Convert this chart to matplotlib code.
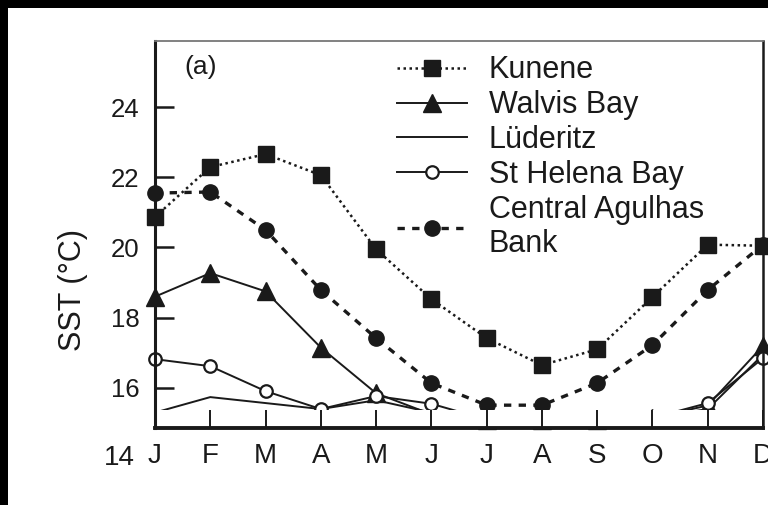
#!/usr/bin/env python3
# -*- coding: utf-8 -*-

from matplotlib import pyplot as plt
from matplotlib.patches import Rectangle
import numpy as np

## Data section - monthly mean SST (deg C)
months = ['J', 'F', 'M', 'A', 'M', 'J', 'J', 'A', 'S', 'O', 'N', 'D']
kunene     = [20.87, 22.29, 22.66, 22.06, 19.95, 18.53, 17.42, 16.65, 17.10, 18.59, 20.08, 20.05]
walvis     = [18.60, 19.27, 18.75, 17.15, 15.85, 15.25, 15.10, 15.10, 15.10, 15.15, 15.50, 17.20]
luderitz   = [15.30, 15.74, 15.57, 15.40, 15.65, 15.30, 15.10, 15.10, 15.10, 15.15, 15.40, 16.95]
st_helena  = [16.82, 16.62, 15.91, 15.40, 15.77, 15.55, 15.10, 15.10, 15.10, 15.15, 15.57, 16.85]
agulhas    = [21.55, 21.58, 20.50, 18.79, 17.42, 16.14, 15.51, 15.51, 16.14, 17.22, 18.79, 20.08]
legends    = ['Kunene', 'Walvis Bay', 'L\u00fcderitz', 'St Helena Bay', 'Central Agulhas\nBank']
yticks     = [16, 18, 20, 22, 24]
ylabel     = 'SST (\u00b0C)'

## Config section
plt.rcParams['font.family'] = ['Liberation Sans', 'DejaVu Sans']
ink = '#1a1a1a'
x = np.arange(len(months))

## Plot section
fig = plt.figure(figsize=(7.68, 5.05), dpi=100)
fig.patch.set_facecolor('white')
# black scan border on top and left
fig.patches.append(Rectangle((0, 1 - 8 / 505), 1, 8 / 505, transform=fig.transFigure,
                             facecolor='black', edgecolor='none', zorder=0))
fig.patches.append(Rectangle((0, 0), 8 / 768, 1, transform=fig.transFigure,
                             facecolor='black', edgecolor='none', zorder=0))

ax = fig.add_axes([155 / 768, 1 - 428 / 505, 608 / 768, 387 / 505])
ax.set_axisbelow(False)

ax.plot(x, kunene, color=ink, linewidth=1.8, linestyle=(0, (1, 1.4)),
        marker='s', markersize=11, label=legends[0], clip_on=False)
ax.plot(x, walvis, color=ink, linewidth=1.4, linestyle='solid',
        marker='^', markersize=13, label=legends[1], clip_on=False)
ax.plot(x, luderitz, color=ink, linewidth=1.4, linestyle='solid',
        label=legends[2], clip_on=False)
ax.plot(x, st_helena, color=ink, linewidth=1.4, linestyle='solid',
        marker='o', markersize=9, markerfacecolor='white', markeredgewidth=1.6,
        label=legends[3], clip_on=False)
ax.plot(x, agulhas, color=ink, linewidth=2.4, linestyle=(0, (2.2, 2.2)),
        marker='o', markersize=11, label=legends[4], clip_on=False)

ax.set_xlim(0, 11)
ax.set_ylim(14.86, 25.88)

# white strip above the month axis hides the lowest part of the curves
ax.add_patch(Rectangle((-0.2, 14.86), 11.4, 15.37 - 14.86, facecolor='white',
                       edgecolor='none', zorder=2.3, clip_on=False))

## Wrap-up plot
ax.set_xticks(x)
ax.set_xticklabels(months)
ax.set_yticks(yticks)
ax.tick_params(axis='x', direction='in', length=13, width=1.4, pad=11,
               labelsize=20, colors=ink)
ax.tick_params(axis='y', direction='in', length=13.5, width=1.8, pad=11,
               labelsize=18.5, colors=ink)
ax.text(-0.36, 14.0, '14', ha='right', va='center', fontsize=20,
        color=ink, clip_on=False)

ax.spines['left'].set_linewidth(2.2)
ax.spines['bottom'].set_linewidth(2.8)
ax.spines['top'].set_linewidth(1.3)
ax.spines['top'].set_color('#777777')
ax.spines['right'].set_linewidth(1.8)
for s in ['left', 'bottom', 'right']:
    ax.spines[s].set_color(ink)
for s in ax.spines.values():
    s.set_zorder(2.6)

ax.set_ylabel(ylabel, fontsize=22, color=ink)
ax.yaxis.set_label_coords(-0.110, 0.357)

ax.text(0.049, 0.934, '(a)', transform=ax.transAxes, ha='left', va='center',
        fontsize=19, color=ink)

ax.legend(loc='upper left', bbox_to_anchor=(0.398, 0.963), frameon=False,
          fontsize=22, handlelength=2.3, handletextpad=0.7, labelspacing=0.16,
          borderpad=0, borderaxespad=0, labelcolor=ink)

plt.savefig('out.png', dpi=100)
plt.close()
